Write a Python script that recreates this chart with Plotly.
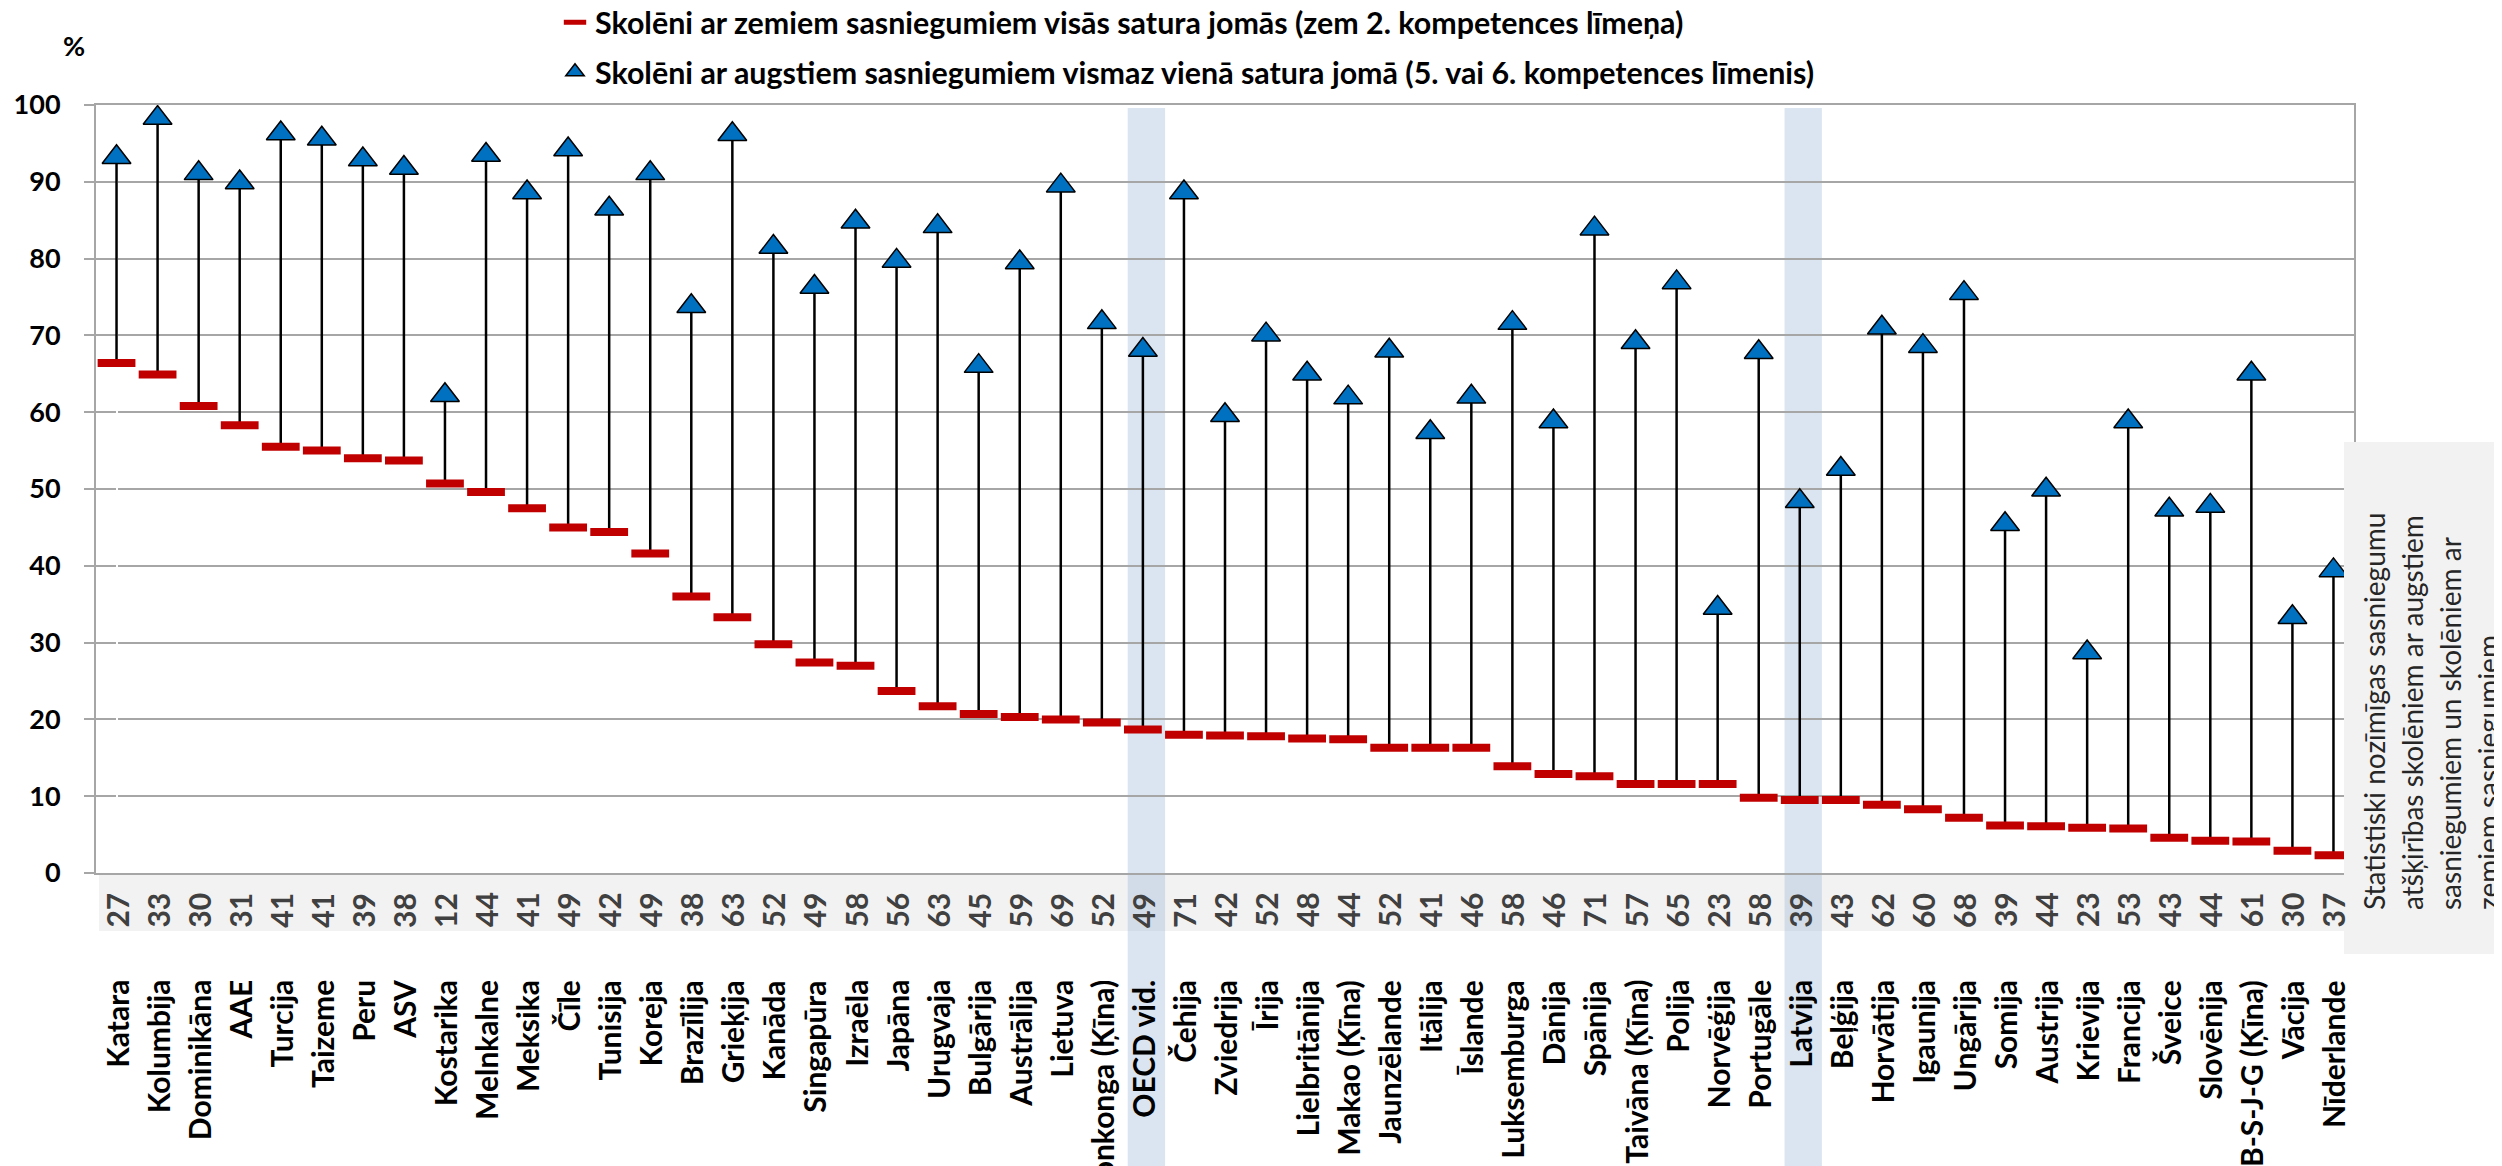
import plotly.graph_objects as go

countries = ["Katara", "Kolumbija", "Dominikāna", "AAE", "Turcija", "Taizeme", "Peru", "ASV",
             "Kostarika", "Melnkalne", "Meksika", "Čīle", "Tunisija", "Koreja", "Brazīlija",
             "Grieķija", "Kanāda", "Singapūra", "Izraēla", "Japāna", "Urugvaja", "Bulgārija",
             "Austrālija", "Lietuva", "Honkonga (Ķīna)", "OECD vid.", "Čehija", "Zviedrija",
             "Īrija", "Lielbritānija", "Makao (Ķīna)", "Jaunzēlande", "Itālija", "Īslande",
             "Luksemburga", "Dānija", "Spānija", "Taivāna (Ķīna)", "Polija", "Norvēģija",
             "Portugāle", "Latvija", "Beļģija", "Horvātija", "Igaunija", "Ungārija", "Somija",
             "Austrija", "Krievija", "Francija", "Šveice", "Slovēnija", "B-S-J-G (Ķīna)",
             "Vācija", "Nīderlande"]

low = [66.4, 64.9, 60.8, 58.3, 55.5, 55.0, 54.0, 53.7, 50.7, 49.6, 47.5, 45.0, 44.4, 41.6,
       36.0, 33.3, 29.8, 27.4, 27.0, 23.7, 21.7, 20.7, 20.3, 20.0, 19.6, 18.7, 18.0, 17.9,
       17.8, 17.5, 17.4, 16.3, 16.3, 16.3, 13.9, 12.9, 12.6, 11.6, 11.6, 11.6, 9.8, 9.5,
       9.5, 8.9, 8.3, 7.2, 6.2, 6.1, 5.9, 5.8, 4.6, 4.2, 4.1, 2.9, 2.3]

high = [93.2, 98.3, 91.1, 89.9, 96.3, 95.6, 92.9, 91.8, 62.2, 93.5, 88.6, 94.2, 86.5, 91.1,
        73.8, 96.2, 81.5, 76.3, 84.8, 79.7, 84.2, 66.0, 79.5, 89.5, 71.7, 68.1, 88.6, 59.6,
        70.1, 65.0, 61.9, 68.0, 57.4, 62.0, 71.6, 58.8, 83.9, 69.1, 76.9, 34.5, 67.8, 48.4,
        52.6, 71.0, 68.6, 75.5, 45.4, 49.9, 28.7, 58.8, 47.3, 47.8, 65.0, 33.3, 39.4]

diff = [27, 33, 30, 31, 41, 41, 39, 38, 12, 44, 41, 49, 42, 49, 38, 63, 52, 49, 58, 56, 63,
        45, 59, 69, 52, 49, 71, 42, 52, 48, 44, 52, 41, 46, 58, 46, 71, 57, 65, 23, 58, 39,
        43, 62, 60, 68, 39, 44, 23, 53, 43, 44, 61, 30, 37]

highlight = ["OECD vid.", "Latvija"]

legend_low = "Skolēni ar zemiem sasniegumiem visās satura jomās (zem 2. kompetences līmeņa)"
legend_high = "Skolēni ar augstiem sasniegumiem vismaz vienā satura jomā (5. vai 6. kompetences līmenis)"
note_lines = ["Statistiski nozīmīgas sasniegumu", "atšķirības skolēniem ar augstiem",
              "sasniegumiem un skolēniem ar", "zemiem sasniegumiem"]

FONT = "Lato, 'Open Sans', sans-serif"
W, H = 2502, 1166
ML, MR, MT, MB = 88, 156, 97, 301
pw, ph = W - ML - MR, H - MT - MB

def px_x(p):  # pixel -> paper x
    return (p - ML) / pw

def px_y(p):  # pixel -> paper y
    return (H - MB - p) / ph

idx = list(range(len(countries)))

# stems: low -> high, separated by None
sx, sy = [], []
for i, (a, b) in enumerate(zip(low, high)):
    sx += [i, i, None]
    sy += [a, b, None]

fig = go.Figure()
fig.add_trace(go.Scatter(x=sx, y=sy, mode="lines", line=dict(color="black", width=2.5),
                         showlegend=False, hoverinfo="skip"))
fig.add_trace(go.Scatter(x=idx, y=low, mode="markers", name=legend_low, legendgroup="a",
                         marker=dict(symbol="line-ew", size=27,
                                     line=dict(color="#c00000", width=8))))
fig.add_trace(go.Scatter(x=idx, y=high, mode="markers", name=legend_high, legendgroup="b",
                         marker=dict(symbol="triangle-up", size=25, color="#0070c0",
                                     line=dict(color="black", width=1.5))))

shapes = []
# grey strip with differences
shapes.append(dict(type="rect", xref="paper", yref="paper", x0=px_x(91), x1=px_x(2336),
                   y0=px_y(866), y1=px_y(923), fillcolor="#f2f2f2", line_width=0, layer="below"))
# highlight bands
for c in highlight:
    i = countries.index(c)
    shapes.append(dict(type="rect", xref="x", yref="paper", x0=i - 0.37, x1=i + 0.54,
                       y0=-0.45, y1=px_y(100), fillcolor="#95b3d7", opacity=0.34,
                       line_width=0, layer="below"))
# note box on the right
shapes.append(dict(type="rect", xref="paper", yref="paper", x0=px_x(2336), x1=px_x(2510),
                   y0=px_y(946), y1=px_y(434), fillcolor="#f2f2f2", line_width=0, layer="above"))

annotations = []
# differences in the grey strip
for i, d in enumerate(diff):
    annotations.append(dict(x=i, y=px_y(902), xref="x", yref="paper", text=str(d),
                            textangle=-90, showarrow=False, xanchor="center", yanchor="middle",
                            font=dict(family=FONT, size=30, color="#404040", weight="bold")))
# category labels hanging below the strip
lab_w = 420
for i, c in enumerate(countries):
    annotations.append(dict(x=i, y=px_y(972 + lab_w / 2), xref="x", yref="paper", text=c,
                            textangle=-90, showarrow=False, xanchor="center", yanchor="middle",
                            width=lab_w, align="right",
                            font=dict(family=FONT, size=30, color="black", weight="bold")))
# note in the right box
note_w = 440
for k, line in enumerate(note_lines):
    annotations.append(dict(x=px_x(2366 + 38 * k), y=px_y(902 - note_w / 2),
                            xref="paper", yref="paper", text=line, textangle=-90,
                            showarrow=False, xanchor="center", yanchor="middle",
                            width=note_w, align="left",
                            font=dict(family=FONT, size=28, color="#262626")))
annotations.append(dict(x=px_x(66), y=px_y(37), xref="paper", yref="paper", text="%",
                        showarrow=False, xanchor="center", yanchor="middle",
                        font=dict(family=FONT, size=27, color="black", weight="bold")))

fig.update_layout(
    width=W, height=H,
    margin=dict(l=ML, r=MR, t=MT, b=MB, autoexpand=False),
    paper_bgcolor="white", plot_bgcolor="white",
    shapes=shapes, annotations=annotations,
    legend=dict(x=px_x(547), y=px_y(-12), xanchor="left", yanchor="top",
                font=dict(family=FONT, size=30.4, color="black", weight="bold"),
                tracegroupgap=7, bgcolor="rgba(0,0,0,0)"),
    xaxis=dict(range=[-0.5, len(countries) - 0.5], tickmode="array", tickvals=idx,
               showticklabels=False, ticks="", showgrid=False,
               showline=True, linecolor="#a6a6a6", linewidth=2, mirror=True),
    yaxis=dict(range=[0, 100], dtick=10, showgrid=True, gridcolor="#a6a6a6", gridwidth=2,
               showline=True, linecolor="#a6a6a6", linewidth=2, mirror=True,
               ticks="outside", ticklen=10, tickcolor="#a6a6a6", tickwidth=2,
               ticklabelstandoff=18, zeroline=False,
               tickfont=dict(family=FONT, size=27, color="black", weight="bold")),
)

fig.write_html("out.html")
